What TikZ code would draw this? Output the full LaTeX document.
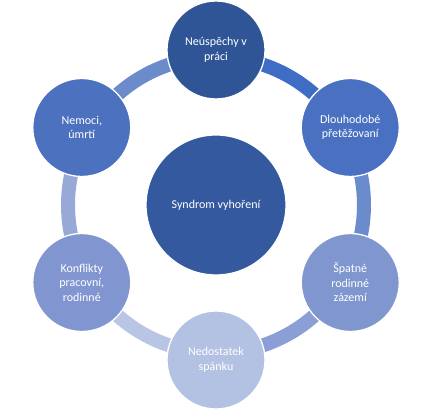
\documentclass[tikz,border=0pt]{standalone}
\usepackage{fontspec}
\setmainfont{Carlito}
\usetikzlibrary{calc}
\definecolor{cTop}{HTML}{2F5597}
\definecolor{cDl}{HTML}{4A70C2}
\definecolor{cSp}{HTML}{7F96CF}
\definecolor{cNed}{HTML}{B3C1E3}
\definecolor{cKon}{HTML}{8196D0}
\definecolor{cNem}{HTML}{4C71BF}
\definecolor{cMid}{HTML}{34599E}
\definecolor{sA}{HTML}{3F6DC5}
\definecolor{sB}{HTML}{6A8BCC}
\definecolor{sC}{HTML}{8B9ED6}
\definecolor{sD}{HTML}{B9C5E5}
\definecolor{sE}{HTML}{97A9D6}
\definecolor{sF}{HTML}{6C8BCB}
\begin{document}
\begin{tikzpicture}[x=1pt,y=1pt,
  bub/.style={circle, draw=white, line width=1.3pt, minimum size=98pt, inner sep=0pt,
    align=center, text=white, font=\fontsize{12}{14.5}\selectfont},
  seg/.style={line width=14pt}]
\useasboundingbox (0,0) rectangle (436,419);
\coordinate (C) at (216,214);
% ring segments
\foreach \s/\e/\col in {90/30/sA, 30/-30/sB, -30/-90/sC, -90/-150/sD, -150/-210/sE, 150/90/sF}{
  \draw[seg, color=\col] ($(C)+(\s:148)$) arc[start angle=\s, end angle=\e, radius=148];
}
% nodes
\node[bub, fill=cMid, minimum size=140pt] (mid) at (C) {Syndrom vyhoření};
\node[bub, fill=cTop] (n1) at ($(C)+(90:155)$) {Neúspěchy v\\práci};
\node[bub, fill=cDl]  (n2) at ($(C)+(30:155)$) {Dlouhodobé\\přetěžovaní};
\node[bub, fill=cSp]  (n3) at ($(C)+(-30:155)$) {Špatné\\rodinné\\zázemí};
\node[bub, fill=cNed] (n4) at ($(C)+(-90:155)$) {Nedostatek\\spánku};
\node[bub, fill=cKon] (n5) at ($(C)+(-150:155)$) {Konflikty\\pracovní,\\rodinné};
\node[bub, fill=cNem] (n6) at ($(C)+(150:155)$) {Nemoci,\\úmrtí};
\end{tikzpicture}
\end{document}
